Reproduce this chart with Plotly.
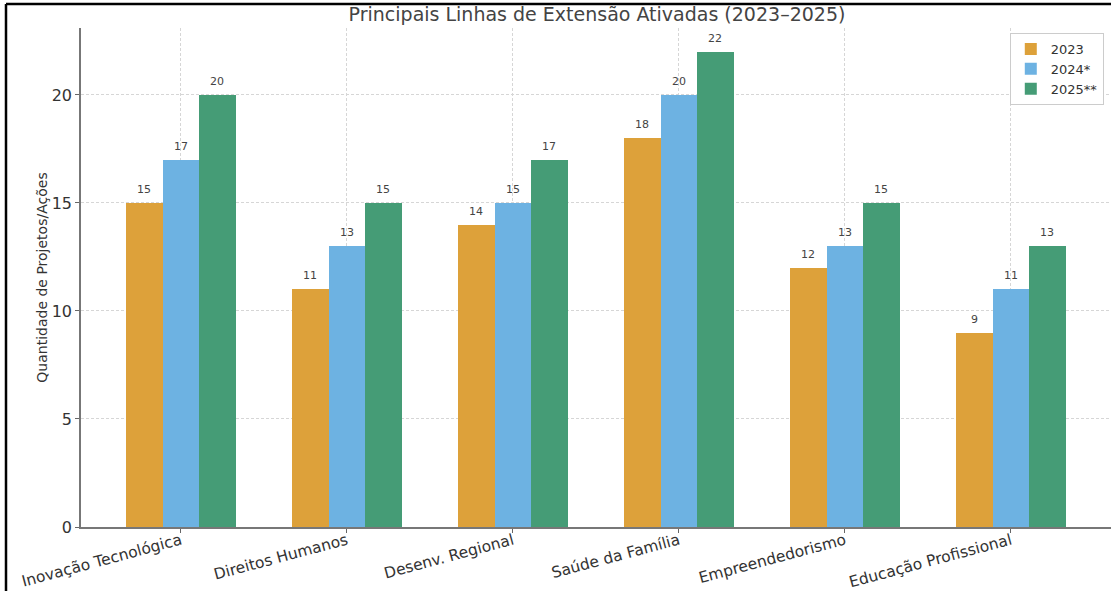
import plotly.graph_objects as go

# Extension lines and project counts per year
categories = ["Inovação Tecnológica", "Direitos Humanos", "Desenv. Regional",
              "Saúde da Família", "Empreendedorismo", "Educação Profissional"]
series_names = ["2023", "2024*", "2025**"]
values_2023 = [15, 11, 14, 18, 12, 9]
values_2024 = [17, 13, 15, 20, 13, 11]
values_2025 = [20, 15, 17, 22, 15, 13]
y_ticks = [0, 5, 10, 15, 20]

colors = ["#DDA13A", "#6DB2E2", "#459C76"]
all_series = [values_2023, values_2024, values_2025]
bar_w = 0.22
font_family = "DejaVu Sans, Verdana, sans-serif"

fig = go.Figure()
annotations = []
for k, (name, vals, col) in enumerate(zip(series_names, all_series, colors)):
    xs = [i + (k - 1) * bar_w for i in range(len(categories))]
    fig.add_trace(go.Bar(
        x=xs, y=vals, width=bar_w, name=name,
        marker=dict(color=col, line=dict(width=0)),
    ))
    for x, v in zip(xs, vals):
        annotations.append(dict(
            x=x, y=v, text=str(v), showarrow=False, xref="x", yref="y",
            yanchor="bottom", yshift=5,
            font=dict(size=11, color="#444444", family=font_family),
        ))

# frame lines along the left and top edges of the page
frame_x = (6 - 81) / 1030
frame_top = (527 - 4) / 499

fig.update_layout(
    width=1111, height=591,
    margin=dict(l=81, r=0, t=28, b=64, autoexpand=False),
    paper_bgcolor="white", plot_bgcolor="white",
    barmode="overlay", bargap=0,
    font=dict(family=font_family, color="#333333"),
    title=dict(text="Principais Linhas de Extensão Ativadas (2023–2025)",
               x=(81 + 1113) / 2 / 1111, xanchor="center", xref="container",
               y=1 - 14 / 591, yanchor="middle", yref="container",
               font=dict(size=19, color="#444444", family=font_family)),
    legend=dict(x=0.993, xanchor="right", y=0.99, yanchor="top",
                bgcolor="white", bordercolor="#cccccc", borderwidth=1,
                font=dict(size=13, color="#333333", family=font_family),
                tracegroupgap=0, itemwidth=30),
    annotations=annotations,
    shapes=[
        dict(type="line", xref="paper", yref="paper",
             x0=frame_x, x1=frame_x, y0=frame_top, y1=-64 / 499,
             line=dict(color="black", width=2.5)),
        dict(type="line", xref="paper", yref="paper",
             x0=frame_x, x1=(1111 - 81) / 1030, y0=frame_top, y1=frame_top,
             line=dict(color="black", width=2.5)),
    ],
)

fig.update_xaxes(
    range=[-0.602, 5.603], automargin=False,
    tickmode="array", tickvals=list(range(len(categories))), ticktext=categories,
    tickangle=-15, tickfont=dict(size=15.5, color="#333333"),
    ticklabelstandoff=-7,
    ticks="outside", ticklen=4, tickcolor="#666666",
    showline=True, linecolor="#777777", linewidth=1.5,
    showgrid=True, gridcolor="#d6d6d6", griddash="3px,2px", gridwidth=1,
    zeroline=False, layer="above traces",
)
fig.update_yaxes(
    range=[0, 23.1], automargin=False,
    tickmode="array", tickvals=y_ticks,
    tickfont=dict(size=16, color="#333333"),
    ticks="outside", ticklen=4, tickcolor="#666666",
    showline=True, linecolor="#777777", linewidth=1.5,
    showgrid=True, gridcolor="#d6d6d6", griddash="3px,2px", gridwidth=1,
    zeroline=False,
    title=dict(text="Quantidade de Projetos/Ações", standoff=1,
               font=dict(size=14, color="#333333")),
)

fig.write_html("out.html")
